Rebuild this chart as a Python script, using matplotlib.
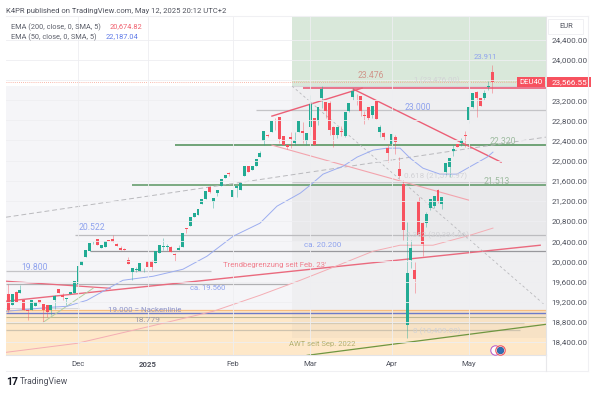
import matplotlib
matplotlib.use("Agg")
import matplotlib.pyplot as plt
from matplotlib.patches import Rectangle

plt.rcParams['font.family'] = ['Roboto', 'DejaVu Sans']

first_index = -18
opens = [19347,19128,19393,19373,19241,19042,19042,19108,19227,19161,19128,19042,19227,19446,19327,19261,19347,19373,
 19559,19923,20088,20208,20360,20439,20274,20287,20420,20439,20353,20267,20254,20022,19798,19825,19811,19840,20003,20010,19963,20175,
 20294,20281,20294,20142,20228,20294,20659,20712,20877,20917,21149,21248,21467,21182,21361,21493,21659,21758,21281,21460,
 21414,21699,21891,21811,21897,22063,22394,22506,22572,22771,22864,22486,22308,22460,22341,22572,22586,22394,22672,22838,
 22791,23235,23169,23136,22672,22506,22580,22487,22990,23268,23290,23281,22910,23056,22904,23189,22560,22540,22242,22328,
 22460,21825,21546,18732,20023,19824,21195,20765,20771,21063,21102,21414,21136,21778,21878,22190,22328,22355,22507,22805,
 23056,23368,23235,23249,23454,23752]
highs = [19557,19347,19420,19526,19241,19062,19241,19194,19240,19161,19128,19128,19327,19460,19373,19280,19400,19605,
 19910,20002,20221,20367,20400,20445,20320,20400,20430,20519,20370,20300,20270,20088,19864,19884,19976,19864,20010,20020,20208,20327,
 20460,20347,20310,20160,20327,20559,20665,20890,20970,21036,21235,21394,21493,21262,21414,21626,21712,21778,21414,21500,
 21566,21891,21900,21897,22030,22195,22592,22530,22778,22837,22870,22490,22330,22572,22572,22791,22771,22539,23301,22838,
 23056,23480,23169,23180,22680,22672,22680,22970,23136,23450,23330,23290,22980,23070,23089,23189,22710,22560,22330,22526,
 22500,22076,21612,20785,20420,19990,21281,20780,20990,21235,21301,21430,21281,21950,22056,22308,22340,22450,22593,23070,
 23335,23375,23240,23401,23580,23898]
lows = [18996,19128,19194,19373,19029,18830,19042,19108,19174,18797,18900,18929,19062,19380,19241,19128,19347,19373,
 19559,19923,20088,20208,20340,20333,20274,20287,20400,20386,20300,20234,20221,19956,19632,19798,19811,19798,19884,19831,19963,20175,
 20228,20228,20190,20010,20228,20294,20573,20712,20877,20917,21149,21248,21348,21069,21295,21493,21659,21699,21248,21281,
 21414,21699,21778,21811,21897,22063,22308,22470,22572,22606,22350,22308,22240,22241,22308,22572,22341,22308,22500,22308,
 22700,23037,22837,22500,22275,22450,22480,22470,22960,23200,23100,22890,22720,22800,22850,22825,22460,22410,21980,22300,
 22140,21650,20420,18487,19877,19381,20500,20103,20685,21016,21050,21160,21036,21712,21679,22100,22262,22300,22275,22738,
 23040,22858,23083,23200,23400,23348]
closes = [19029,19347,19194,19439,19029,19016,19241,19194,19174,19042,18996,19128,19307,19380,19294,19270,19400,19605,
 19910,20002,20221,20367,20370,20333,20320,20400,20410,20386,20300,20234,20221,19956,19864,19840,19976,19857,19884,19884,20208,20327,
 20300,20300,20195,20122,20261,20559,20645,20890,20970,21036,21235,21394,21381,21262,21414,21626,21712,21725,21414,21500,
 21566,21891,21778,21897,22030,22142,22592,22480,22778,22760,22427,22308,22274,22420,22407,22791,22539,22539,23123,22308,
 23056,23414,22990,22606,22506,22672,22560,22970,23136,23387,23280,22990,22890,22838,23089,22825,22672,22460,22156,22526,
 22374,21699,20632,19771,20268,19645,20533,20354,20937,21235,21301,21182,21281,21944,22056,22230,22262,22407,22490,23070,
 23335,23235,23083,23335,23480,23566]

ema50_x = [-18.6,-7.2,-2.8,2.3,6.5,11.6,19.4,27.1,33.3,40.1,47,51.4,57.4,60,63.3,68.5,72.1,76.2,79.8,83.2,85.8,89.1,93.5,97.9,102,105.7,107.2]
ema50_y = [19009,19089,19109,19228,19407,19625,19705,19844,20102,20500,20758,21096,21354,21513,21732,21891,22070,22208,22248,22248,22049,21851,21732,21732,21911,22070,22169]
ema200_x = [-18.6,-0.3,18.6,34.9,47,57.4,65.9,76.2,83.2,91.7,101.3,107.2]
ema200_y = [18195,18373,18711,19009,19327,19625,19883,20201,20321,20321,20520,20661]

y_ticks = [18400,18800,19200,19600,20000,20400,20800,21200,21600,22000,22400,22800,23200,23600,24000,24400]
y_labels = ["18,400.00","18,800.00","19,200.00","19,600.00","20,000.00","20,400.00","20,800.00","21,200.00","21,600.00","22,000.00","22,400.00","22,800.00","23,200.00","","24,000.00","24,400.00"]
x_ticks = [0,18.1,40,60,81,101]
x_labels = ["Dec","2025","Feb","Mar","Apr","May"]

X0, X1 = -18.6, 120.9
Y0, Y1 = 18142, 24871

fig = plt.figure(figsize=(6,3.93), dpi=100)
fig.patch.set_facecolor('white')
ax = fig.add_axes([6/600, 38/393, 540/600, 339/393])
ax.set_xlim(X0,X1); ax.set_ylim(Y0,Y1)
ax.set_facecolor('#ffffff')

def px(x,y,s,**k):
    k.setdefault('va','center')
    fig.text(x/600,1-y/393,s,**k)

# zones
fib_x = 55.3
ax.add_patch(Rectangle((X0,Y0),X1-X0,23476-Y0,color='#f5f5f8',lw=0,zorder=0))
ax.add_patch(Rectangle((X0,Y0),X1-X0,19040-Y0,color='#fee8c9',lw=0,zorder=0.3))
ax.add_patch(Rectangle((fib_x,23476),X1-fib_x,Y1-23476,color='#d9e8da',lw=0,zorder=0.4))
ax.add_patch(Rectangle((fib_x,18489),X1-fib_x,23476-18489,color='#888888',alpha=0.055,lw=0,zorder=0.4))
ax.add_patch(Rectangle((fib_x,20394),X1-fib_x,21570-20394,color='#888888',alpha=0.05,lw=0,zorder=0.4))
ax.grid(True,color='#eeeef1',lw=0.6,zorder=0.5)
ax.set_axisbelow(False)
for gl in ax.get_xgridlines()+ax.get_ygridlines():
    gl.set_zorder(0.5)

# horizontal levels: price, start, end, colour, width
levels = [
 (23476,fib_x,X1,'#d6d6da',0.8),
 (23000,46,X1,'#c4c4c7',0.9),
 (21570,fib_x,X1,'#cdcdd0',0.8),
 (20522,-0.8,X1,'#bcbcbf',0.9),
 (20200,3.1,X1,'#98989c',0.9),
 (19800,X0,34.4,'#c4c4c7',0.9),
 (19560,X0,54.3,'#b0b0b3',0.9),
 (19080,X0,0.3,'#d8d8db',0.7),
 (18900,X0,X1,'#bdb693',0.8),
 (18770,X0,115.2,'#d5cab3',0.9),
 (18630,X0,114.2,'#cfc3ae',0.9),
 (19040,X0,X1,'#f8bd80',0.9),
 (18985,X0,X1,'#6d7ac8',1.0),
 (22320,25,X1,'#5a9662',1.2),
 (21513,14,X1,'#5a9662',1.1),
 (23450,58.1,X1,'#e9607a',1.2),
]
for p,a,b,c,w in levels:
    ax.plot([a,b],[p,p],color=c,lw=w,zorder=1,solid_capstyle='butt')
ax.axhline(23566,color='#f7a08f',lw=0.6,ls=(0,(1,1.5)),zorder=1)
ax.plot([fib_x,X1],[23590,23590],color='#dcc98a',lw=0.5,ls=(0,(1,1.5)),zorder=1)

# sloped lines
trends = [
 ((-18.6,119.4),(19210,20321),'#ea6a7e',1.0,'-'),
 ((-18.6,8.3),(19607,19467),'#ea6a7e',0.9,'-'),
 ((-9.0,3.9),(18791,19467),'#b4cd9f',0.7,'-'),
 ((-18.6,120.9),(20877,22467),'#b9b9bd',0.7,(0,(5,3))),
 ((59.2,120.9),(18135,18751),'#6f9640',0.9,'-'),
 ((50.1,73.4),(22884,23440),'#ec5f76',1.0,'-'),
 ((71.1,109.3),(23420,21970),'#ec5f76',1.0,'-'),
 ((50.1,101),(22308,21215),'#f3a4ad',0.8,'-'),
 ((55.3,120.7),(23480,19128),'#b9b9bd',0.6,(0,(3,3))),
]
for xs,ys,c,w,ls in trends:
    ax.plot(xs,ys,color=c,lw=w,ls=ls,zorder=1.2)
ax.plot(ema50_x,ema50_y,color='#9cadf0',lw=0.7,zorder=1.3)
ax.plot(ema200_x,ema200_y,color='#f4adb4',lw=0.7,zorder=1.3)

# candles
green, red = '#22ab94', '#f7525f'
for k,(o,h,l,c) in enumerate(zip(opens,highs,lows,closes)):
    i = first_index+k
    col = green if c>=o else red
    ax.plot([i,i],[l,h],color=col,lw=0.6,alpha=0.5,zorder=2,solid_capstyle='butt')
    ax.add_patch(Rectangle((i-0.38,min(o,c)),0.76,max(abs(c-o),12),color=col,lw=0,zorder=2.1))

# source icon
ax.scatter([107.6],[18250],s=46,facecolor='white',edgecolor='#b455c8',lw=0.7,zorder=3)
ax.scatter([108.9],[18250],s=46,facecolor='white',edgecolor='#f0525f',lw=0.8,zorder=3)
ax.scatter([108.9],[18250],s=22,facecolor='#2f6fb5',edgecolor='#1f4f88',lw=0.5,zorder=3.1)

# axes styling
for s in ['top','left']:
    ax.spines[s].set_visible(False)
for s in ['bottom','right']:
    ax.spines[s].set_color('#e4e4e7'); ax.spines[s].set_linewidth(0.8)
ax.yaxis.tick_right()
ax.set_yticks(y_ticks); ax.set_yticklabels(y_labels,fontsize=5.9,color='#50535e')
ax.set_xticks(x_ticks); ax.set_xticklabels(x_labels,fontsize=5.6,color='#50535e')
ax.get_xticklabels()[1].set_fontweight('bold')
ax.tick_params(axis='both',length=0,pad=4)
ax.tick_params(axis='x',pad=4)

# outer frame
fig.add_artist(plt.Line2D([6/600,588/600],[1-371/393,1-371/393],color='#f0f0f3',lw=0.8))
fig.add_artist(plt.Line2D([588/600,588/600],[1-371/393,1-16/393],color='#f0f0f3',lw=0.8))
fig.add_artist(plt.Line2D([6/600,588/600],[1-16/393,1-16/393],color='#f0f0f3',lw=0.8))
fig.add_artist(plt.Line2D([546/600,546/600],[1-371/393,1-355/393],color='#e8e8eb',lw=0.8))

# header and legend
px(6,10.5,"K4PR published on TradingView.com, May 12, 2025 20:12 UTC+2",fontsize=5.5,color='#50535e')
px(11,27,"EMA (200, close, 0, SMA, 5)",fontsize=5.3,color='#5d606b')
px(110,27,"20,674.82",fontsize=5.3,color='#f0606e')
px(11,37,"EMA (50, close, 0, SMA, 5)",fontsize=5.3,color='#5d606b')
px(106,37,"22,187.04",fontsize=5.3,color='#5f7ae8')

# EUR box
fig.patches.append(Rectangle((548/600,1-34/393),35/600,15/393,transform=fig.transFigure,facecolor='white',edgecolor='#f0f0f3',lw=0.7))
px(566,26.5,"EUR",fontsize=5.4,color='#50535e',ha='center')

# price tags
fig.patches.append(Rectangle((517/600,1-87/393),28/600,10/393,transform=fig.transFigure,facecolor=red,edgecolor='none'))
fig.patches.append(Rectangle((547/600,1-87/393),44/600,10/393,transform=fig.transFigure,facecolor=red,edgecolor='none'))
px(531,82,"DEU40",fontsize=5.6,color='white',ha='center')
px(569,82,"23,566.55",fontsize=5.9,color='white',ha='center')

# annotations
c_blue,c_green,c_red,c_gray = '#8ea2ee','#9dbb9f','#d0958a','#d2d2d6'
for x,y,s,c,fs in [
 (371,76,"23.476",c_red,6.2),(437,80,"1 (23,476.00)",c_gray,5.6),(485.5,57,"23.911",c_blue,5.5),
 (418,107,"23.000",c_blue,6.2),(503,141,"22.320",c_green,6.2),(436,176,"0.618 (21,570.97)",c_gray,5.8),
 (497,181,"21.513",c_green,6.2),(92,228,"20.522",c_blue,6.2),(35,267,"19.800",c_blue,6.2),
 (208,288.5,"ca. 19.560",c_blue,5.5),(323,245,"ca. 20.200",c_blue,5.8),(147,320,"18.779",'#9c9aa8',6.0),
 (437,235,"0.382 (20,394.06)",c_gray,5.8),(437,331,"0 (18,489.00)",c_gray,5.8)]:
    px(x,y,s,color=c,fontsize=fs,ha='center')
px(223,265,"Trendbegrenzung seit Feb. 23'",fontsize=5.6,color='#f0808e')
px(108,309.5,"19.000 = Nackenlinie",fontsize=5.7,color='#8d93c8')
px(289,344,"AWT seit Sep. 2022",fontsize=5.5,color='#b3b070')

# logo
px(6,382,"17",fontsize=7.5,fontweight='bold',color='#131722')
px(20,382,"TradingView",fontsize=6.2,color='#50535e')

fig.savefig('out.png',dpi=100)
